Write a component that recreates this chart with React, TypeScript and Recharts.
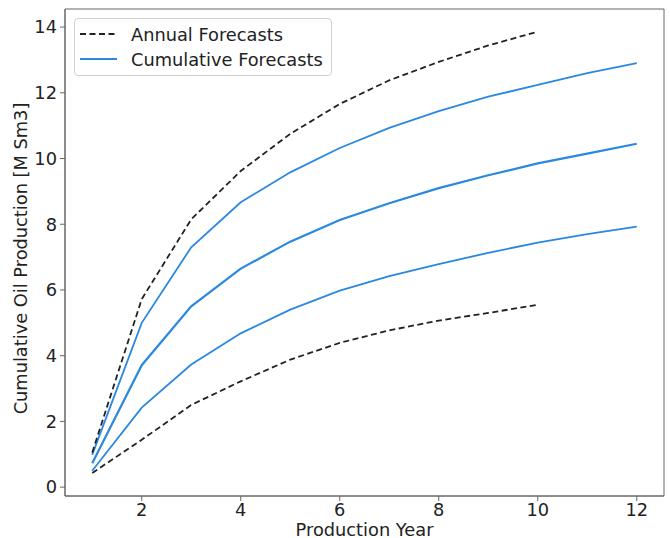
import React from "react";
import {
  LineChart,
  Line,
  XAxis,
  YAxis,
  ReferenceArea,
} from "recharts";

const years = [1, 2, 3, 4, 5, 6, 7, 8, 9, 10, 11, 12];
const annualHigh = [1.05, 5.72, 8.15, 9.62, 10.75, 11.66, 12.38, 12.94, 13.44, 13.86];
const annualLow = [0.43, 1.44, 2.5, 3.22, 3.88, 4.39, 4.77, 5.07, 5.3, 5.55];
const cumHigh = [0.98, 5.0, 7.3, 8.67, 9.58, 10.32, 10.93, 11.44, 11.88, 12.24, 12.6, 12.9];
const cumMid = [0.73, 3.71, 5.5, 6.65, 7.47, 8.13, 8.64, 9.1, 9.49, 9.85, 10.15, 10.45];
const cumLow = [0.5, 2.42, 3.73, 4.68, 5.4, 5.98, 6.42, 6.79, 7.13, 7.44, 7.7, 7.93];

const xTicks = [2, 4, 6, 8, 10, 12];
const yTicks = [0, 2, 4, 6, 8, 10, 12, 14];

const legendItems = [
  { label: "Annual Forecasts", color: "#222222", dash: "6 3.5" },
  { label: "Cumulative Forecasts", color: "#2a88e0", dash: "" },
];

const data = years.map((y, i) => ({
  year: y,
  annualHigh: annualHigh[i],
  annualLow: annualLow[i],
  cumHigh: cumHigh[i],
  cumMid: cumMid[i],
  cumLow: cumLow[i],
}));

const FONT = "'DejaVu Sans', sans-serif";
const FS = 17.8;
const BLUE = "#2a88e0";
const DASH_COLOR = "#222222";

const LegendBox = () => (
  <div
    style={{
      position: "absolute",
      left: 74,
      top: 18,
      border: "1px solid #d0d0d0",
      borderRadius: 4,
      background: "rgba(255,255,255,0.8)",
      width: 258,
      height: 58,
      boxSizing: "border-box",
      fontFamily: FONT,
      fontSize: FS,
      color: "#222",
    }}
  >
    {legendItems.map((it, i) => (
      <div
        key={it.label}
        style={{
          position: "absolute",
          left: 5,
          top: 3 + i * 25,
          height: 24,
          display: "flex",
          alignItems: "center",
          whiteSpace: "nowrap",
        }}
      >
        <svg width={37} height={10} style={{ marginRight: 14 }}>
          <line
            x1={0}
            y1={5}
            x2={37}
            y2={5}
            stroke={it.color}
            strokeWidth={1.8}
            strokeDasharray={it.dash || undefined}
          />
        </svg>
        <span>{it.label}</span>
      </div>
    ))}
  </div>
);

export default function App() {
  return (
    <div style={{ position: "absolute", left: 0, top: 0, width: 670, height: 538, background: "#fff" }}>
      <LineChart
        width={670}
        height={538}
        data={data}
        margin={{ top: 9, right: 6, left: 0, bottom: 0 }}
      >
        <XAxis
          dataKey="year"
          type="number"
          domain={[0.45, 12.55]}
          ticks={xTicks}
          allowDataOverflow
          height={42}
          tickSize={5}
          tickMargin={2}
          stroke="#666"
          tick={{ fontSize: FS, fill: "#222", fontFamily: FONT }}
          label={{
            value: "Production Year",
            position: "insideBottom",
            offset: 2,
            style: { fontSize: FS, fill: "#222", fontFamily: FONT },
          }}
        />
        <YAxis
          type="number"
          domain={[-0.27, 14.55]}
          ticks={yTicks}
          allowDataOverflow
          width={65}
          tickSize={5}
          tickMargin={3}
          stroke="#666"
          tick={{ fontSize: FS, fill: "#222", fontFamily: FONT }}
          label={{
            value: "Cumulative Oil Production [M Sm3]",
            angle: -90,
            position: "insideLeft",
            offset: 21,
            dy: 6,
            style: { fontSize: FS, fill: "#222", fontFamily: FONT, textAnchor: "middle" },
          }}
        />
        <ReferenceArea
          x1={0.45}
          x2={12.55}
          y1={-0.27}
          y2={14.55}
          fill="none"
          stroke="#666"
          strokeWidth={1}
          ifOverflow="visible"
        />
        <Line
          dataKey="cumHigh"
          stroke={BLUE}
          strokeWidth={1.8}
          dot={false}
          isAnimationActive={false}
          type="linear"
        />
        <Line
          dataKey="cumMid"
          stroke={BLUE}
          strokeWidth={2.2}
          dot={false}
          isAnimationActive={false}
          type="linear"
        />
        <Line
          dataKey="cumLow"
          stroke={BLUE}
          strokeWidth={1.8}
          dot={false}
          isAnimationActive={false}
          type="linear"
        />
        <Line
          dataKey="annualHigh"
          stroke={DASH_COLOR}
          strokeWidth={1.8}
          strokeDasharray="6 3.5"
          dot={false}
          isAnimationActive={false}
          type="linear"
        />
        <Line
          dataKey="annualLow"
          stroke={DASH_COLOR}
          strokeWidth={1.8}
          strokeDasharray="6 3.5"
          dot={false}
          isAnimationActive={false}
          type="linear"
        />
      </LineChart>
      <LegendBox />
    </div>
  );
}
